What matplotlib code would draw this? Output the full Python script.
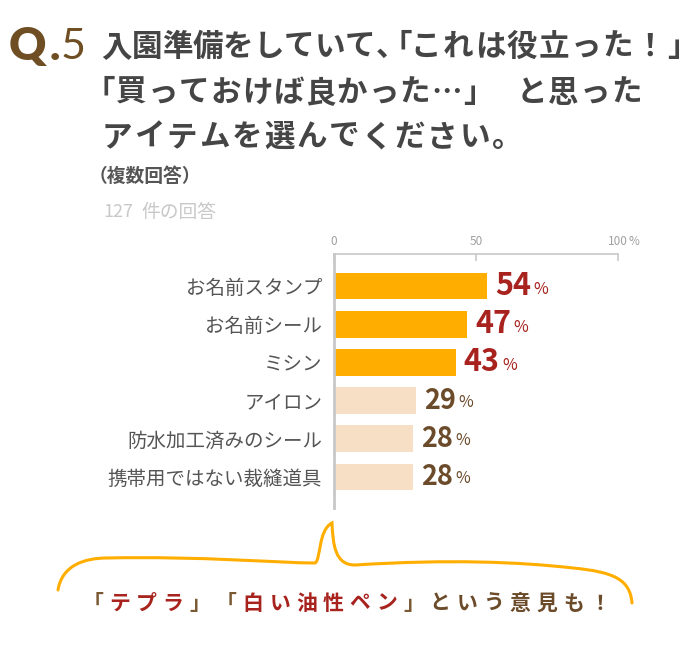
import matplotlib
matplotlib.use("Agg")
import matplotlib.pyplot as plt
from matplotlib.path import Path
from matplotlib.patches import PathPatch
import numpy as np

plt.rcParams['font.family'] = ['Noto Sans CJK JP', 'DejaVu Sans']

# data
items = ["お名前スタンプ", "お名前シール", "ミシン", "アイロン",
         "防水加工済みのシール", "携帯用ではない裁縫道具"]
percents = [54, 47, 43, 29, 28, 28]
highlight = [True, True, True, False, False, False]
x_ticks = [0, 50, 100]
x_tick_labels = ["0", "50", "100"]

title_1a = "入園準備をしていて、「"
title_1b = "これは役立った！」"
title_2 = "「買っておけば良かった…」 と思った"
title_3 = "アイテムを選んでください。"
comment_parts = [("「", "#7a5a35"), ("テプラ", "#a8231e"), ("」", "#7a5a35"),
                 ("「", "#7a5a35"), ("白い油性ペン", "#a8231e"), ("」", "#7a5a35"),
                 ("という意見も！", "#6b4b2a")]

ORANGE = "#ffae00"
PEACH = "#f6dfc4"
RED = "#a8231e"
BROWN = "#6b4b2a"
TITLE = "#454545"

W, H = 700, 645
fig = plt.figure(figsize=(W / 100, H / 100), dpi=100)


def fx(px):
    return px / W


def fy(py):
    return 1 - py / H


OPEN = "「（"
CLOSE = "」）、。"


def spaced(x, y, s, step, adv=None, color=TITLE, size=22, weight="bold"):
    # place characters one by one, to get the wide letter spacing of the original
    adv = adv or {}
    for ch in s:
        a = adv.get(ch, 1.0) * step
        if ch in OPEN:
            c = x + a - step / 2
        elif ch in CLOSE:
            c = x + step / 2
        else:
            c = x + a / 2
        fig.text(fx(c), fy(y), ch, fontsize=size, fontweight=weight, color=color,
                 ha="center", va="center")
        x += a
    return x


# header
q_font = ["Lato", "DejaVu Sans"]
fig.text(fx(9), fy(47), "Q", fontsize=33, fontweight="heavy", color="#6e4e22",
         family=q_font, va="center", ha="left")
fig.text(fx(50), fy(47), ".", fontsize=31, fontweight="heavy", color="#6e4e22",
         family=q_font, va="center", ha="left")
fig.text(fx(61), fy(47), "5", fontsize=31, fontweight="normal", color="#6e4e22",
         family=q_font, va="center", ha="left")

spaced(101, 47, title_1a, 30.5, {"、": 0.6, "「": 0.6})
spaced(410, 47, title_1b, 32)
spaced(100, 93, title_2, 31.5, {"「": 0.5, " ": 0.7})
spaced(100, 137, title_3, 32.6)

fig.text(fx(89), fy(176), "（複数回答）", fontsize=13.5, fontweight="bold",
         color="#555555", va="center", ha="left")
fig.text(fx(103), fy(212), "127", fontsize=13, color="#c8c8c8",
         va="center", ha="left")
fig.text(fx(141), fy(212), "件の回答", fontsize=13.5, color="#c8c8c8",
         va="center", ha="left")

# bar chart
ax = fig.add_axes([fx(334), fy(508), fx(617.7) - fx(334), (508 - 254) / H])
y = np.arange(len(items))
colors = [ORANGE if h else PEACH for h in highlight]
ax.barh(y, percents, height=0.7, color=colors, zorder=2)
ax.set_xlim(0, 100)
ax.set_ylim(5.81, -0.838)

ax.xaxis.tick_top()
ax.set_xticks(x_ticks)
ax.set_xticklabels(x_tick_labels, fontsize=8.5, color="#a0a0a0")
ax.tick_params(axis="x", direction="in", length=5, width=1.2, color="#c8c8c8", pad=4)
ax.annotate("%", xy=(100, 1), xycoords=("data", "axes fraction"), xytext=(8, 4),
            textcoords="offset points", fontsize=8.5, color="#a0a0a0",
            ha="left", va="bottom")
ax.set_yticks(y)
ax.set_yticklabels(items, fontsize=14, color="#555555")
ax.tick_params(axis="y", length=0, pad=8.5)
for s in ["right", "bottom"]:
    ax.spines[s].set_visible(False)
ax.spines["top"].set_color("#c8c8c8")
ax.spines["top"].set_linewidth(1.2)
ax.spines["left"].set_color("#c8c8c8")
ax.spines["left"].set_linewidth(2)

for yi, v, h in zip(y, percents, highlight):
    c = RED if h else BROWN
    num = ax.annotate(str(v), xy=(v, yi), xytext=(5.5, 0), textcoords="offset points",
                      fontsize=22 if h else 19.5, fontweight="bold", color=c,
                      va="center", ha="left")
    ax.annotate("%", xy=(1, 0.13), xycoords=num, xytext=(2, 0),
                textcoords="offset points", fontsize=11.5,
                color=c, va="bottom", ha="left")

# speech bubble
pts = [(58, 590), (62, 565), (85, 558), (107, 558),
       (200, 556), (280, 563), (315, 563),
       (321, 560), (318, 530), (332, 523),
       (333, 545), (335, 565), (355, 565),
       (450, 559), (520, 562), (573, 568),
       (615, 572), (630, 580), (632, 603)]
codes = [Path.MOVETO] + [Path.CURVE4] * (len(pts) - 1)
bubble = Path([(fx(a), fy(b)) for a, b in pts], codes)
fig.patches.append(PathPatch(bubble, transform=fig.transFigure, fill=False,
                             edgecolor=ORANGE, linewidth=2.2, capstyle="round"))

# comment text with wide letter spacing
x0, step = 93, 26.7
k = 0
for part, col in comment_parts:
    for ch in part:
        fig.text(fx(x0 + k * step), fy(603), ch, fontsize=15, fontweight="bold",
                 color=col, ha="center", va="center")
        k += 1

fig.savefig("out.png", dpi=100)
